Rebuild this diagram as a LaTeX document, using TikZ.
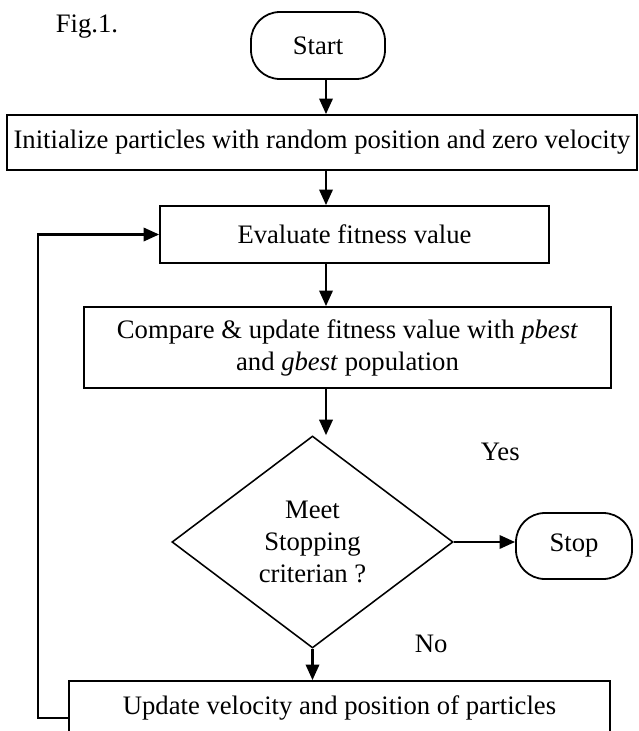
\documentclass[tikz,border=0pt]{standalone}
\usepackage{fontspec}
\setmainfont{Liberation Serif}
\usetikzlibrary{shapes.geometric,arrows.meta}

\begin{document}
\begin{tikzpicture}[
  x=0.45pt, y=-0.45pt,
  font=\fontsize{12}{14.4}\selectfont,
  box/.style={draw, rectangle, line width=0.8pt, inner sep=0pt, align=center},
  term/.style={draw, rectangle, rounded corners=13pt, line width=0.8pt, inner sep=0pt},
  decision/.style={draw, diamond, line width=0.7pt, inner sep=0pt, align=center,
    minimum width=126.5pt, minimum height=95.4pt},
  arrow/.style={line width=1.1pt, -{Triangle[length=7pt, width=6pt]}},
  line/.style={line width=1.1pt}
]
\useasboundingbox (0,0) rectangle (639,731);

\node[anchor=base west] (fig) at (48,32) {Fig.1.};
\node[term, minimum width=60.3pt, minimum height=30.15pt] (start) at (318,45.5) {Start};
\node[box, minimum width=283.5pt, minimum height=24.75pt] (init) at (322,142.5)
  {Initialize particles with random position and zero velocity};
\node[box, minimum width=175pt, minimum height=25.65pt] (eval) at (354.5,234.5)
  {Evaluate fitness value};
\node[box, minimum width=237.2pt, minimum height=36.45pt] (comp) at (347.5,347.5)
  {Compare \& update fitness value with \textit{pbest}\\ and \textit{gbest} population};
\node[decision] (dec) at (312.5,542) {Meet\\ Stopping\\ criterian ?};
\node[term, minimum width=52.2pt, minimum height=29.7pt] (stop) at (574,546) {Stop};
\node[box, minimum width=243.5pt, minimum height=24.3pt] (update) at (339.5,708)
  {Update velocity and position of particles};

\node[anchor=base west] (yes) at (473,460) {Yes};
\node[anchor=base west] (no) at (407,652) {No};

% main column of arrows
\coordinate (axis) at (326,0);
\coordinate (loop) at (38,718);

\draw[arrow] (start.south -| axis) -- (init.north -| axis);
\draw[arrow] (init.south -| axis) -- (eval.north -| axis);
\draw[arrow] (eval.south -| axis) -- (comp.north -| axis);
\draw[arrow] (comp.south -| axis) -- (dec.north -| axis);
\draw[arrow] (dec.south) -- (update.north -| dec.south);
\draw[arrow] (dec.east) -- (dec.east -| stop.west);

% feedback loop
\draw[arrow] (update.west |- loop) -- (loop) |- (eval.west);
\end{tikzpicture}
\end{document}
